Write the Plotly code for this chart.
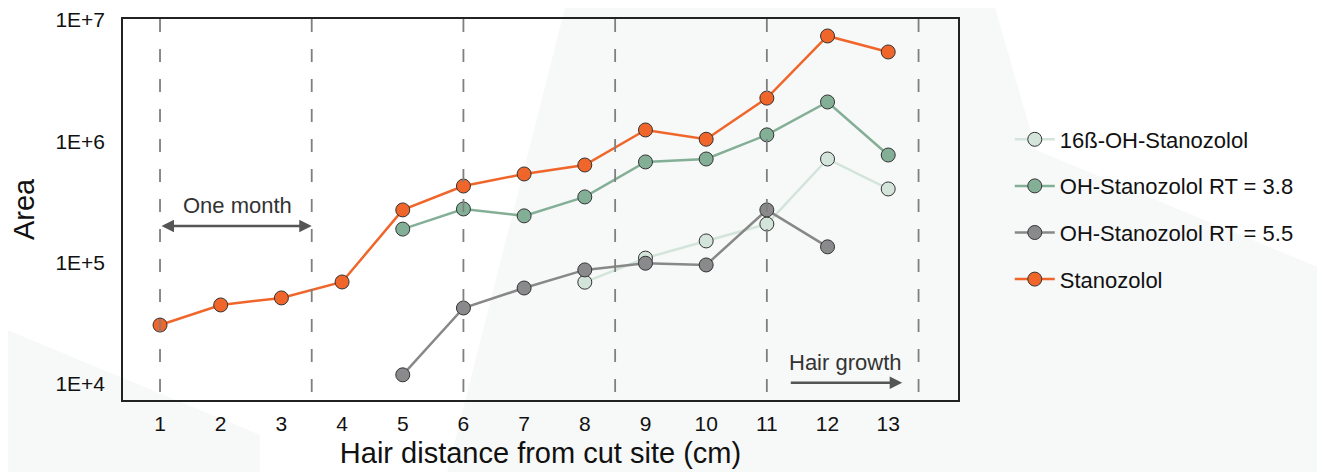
import plotly.graph_objects as go

x_cm = list(range(1, 14))

series_names = ["16ß-OH-Stanozolol", "OH-Stanozolol RT = 3.8", "OH-Stanozolol RT = 5.5", "Stanozolol"]

x_16b = [8, 9, 10, 11, 12, 13]
y_16b = [69000, 109000, 151000, 208000, 715000, 405000]

x_rt38 = [5, 6, 7, 8, 9, 10, 11, 12, 13]
y_rt38 = [189000, 277000, 243000, 348000, 676000, 715000, 1130000, 2110000, 771000]

x_rt55 = [5, 6, 7, 8, 9, 10, 11, 12]
y_rt55 = [11900, 42300, 61800, 87100, 98900, 95700, 272000, 135000]

x_stan = list(range(1, 14))
y_stan = [30600, 44800, 51200, 69300, 272000, 428000, 538000, 638000, 1240000, 1040000, 2270000, 7380000, 5450000]

month_lines = [1, 3.5, 6, 8.5, 11, 13.5]

line_colors = ["#D3E5DB", "#84AF97", "#888888", "#F0662A"]
marker_colors = ["#D3E5DB", "#84AF97", "#8A8A8C", "#F0662A"]

FONT = "Liberation Sans, Arial, sans-serif"

fig = go.Figure()

data = [(x_16b, y_16b), (x_rt38, y_rt38), (x_rt55, y_rt55), (x_stan, y_stan)]
for i, (xs, ys) in enumerate(data):
    fig.add_trace(go.Scatter(
        x=xs, y=ys, mode="lines+markers", name=series_names[i],
        legendgroup=str(i),
        line=dict(color=line_colors[i], width=2.5),
        marker=dict(size=14, color=marker_colors[i], line=dict(color="#333333", width=1)),
    ))

# page background shapes (subtle); page pixel coords -> paper coords
bg = "#F7F8F8"
def px2paper(px, py):
    return ((px - 123) / 835.0, (400 - py) / 381.0)

def poly(points):
    pts = [px2paper(a, b) for a, b in points]
    path = "M " + " L ".join(f"{a},{b}" for a, b in pts) + " Z"
    return dict(type="path", xref="paper", yref="paper", path=path,
                fillcolor=bg, line=dict(width=0), layer="below")

shapes = [
    poly([(567, 0), (993, 0), (1036, 150), (1325, 270), (1325, 472), (447, 472)]),
    poly([(0, 327), (260, 435), (260, 472), (0, 472)]),
]
for xv in month_lines:
    shapes.append(dict(type="line", xref="x", yref="paper", x0=xv, x1=xv, y0=1, y1=0,
                       line=dict(color="#7F7F7F", width=1.8, dash="13px,17px"), layer="above"))

annotations = [
    dict(x=3.5, y=5.301, ax=1, ay=5.301, xref="x", yref="y", axref="x", ayref="y",
         showarrow=True, arrowhead=2, arrowside="end+start", arrowsize=1.0, arrowwidth=2.5,
         arrowcolor="#555555", text=""),
    dict(x=2.27, y=5.301, xref="x", yref="y", text="One month", showarrow=False,
         yanchor="bottom", yshift=6, font=dict(family=FONT, size=22, color="#333333")),
    dict(x=13.23, y=4.01, ax=11.37, ay=4.01, xref="x", yref="y", axref="x", ayref="y",
         showarrow=True, arrowhead=2, arrowsize=1.0, arrowwidth=2.5,
         arrowcolor="#555555", text=""),
    dict(x=12.29, y=4.01, xref="x", yref="y", text="Hair growth", showarrow=False,
         yanchor="bottom", yshift=6, font=dict(family=FONT, size=22, color="#333333")),
]

fig.update_layout(
    width=1317, height=464,
    margin=dict(l=115, r=367, t=11, b=72, autoexpand=False),
    paper_bgcolor="white",
    plot_bgcolor="rgba(0,0,0,0)",
    font=dict(family=FONT, color="#000000"),
    showlegend=True,
    legend=dict(x=1.062, y=0.50, xanchor="left", yanchor="middle",
                font=dict(family=FONT, size=22, color="#111111"),
                tracegroupgap=15, traceorder="grouped", bgcolor="rgba(0,0,0,0)",
                itemwidth=40),
    shapes=shapes,
    annotations=annotations,
)

fig.update_xaxes(
    range=[0.39, 14.15], tickmode="array", tickvals=x_cm, ticktext=[str(v) for v in x_cm],
    showgrid=False, zeroline=False, showline=True, mirror=True, linecolor="#222222", linewidth=1.5,
    ticks="", tickfont=dict(family=FONT, size=21, color="#111111"), ticklabelstandoff=4,
    automargin=False,
    title=dict(text="Hair distance from cut site (cm)", font=dict(family=FONT, size=29, color="#111111"), standoff=9),
)
fig.update_yaxes(
    type="log", range=[3.868, 7.008], tickmode="array",
    tickvals=[1e4, 1e5, 1e6, 1e7], ticktext=["1E+4", "1E+5", "1E+6", "1E+7"],
    showgrid=False, zeroline=False, showline=True, mirror=True, linecolor="#222222", linewidth=1.5,
    ticks="", tickfont=dict(family=FONT, size=21, color="#111111"), ticklabelstandoff=12,
    automargin=False,
    title=dict(text="Area", font=dict(family=FONT, size=29, color="#111111"), standoff=23),
)

fig.write_html("out.html")
